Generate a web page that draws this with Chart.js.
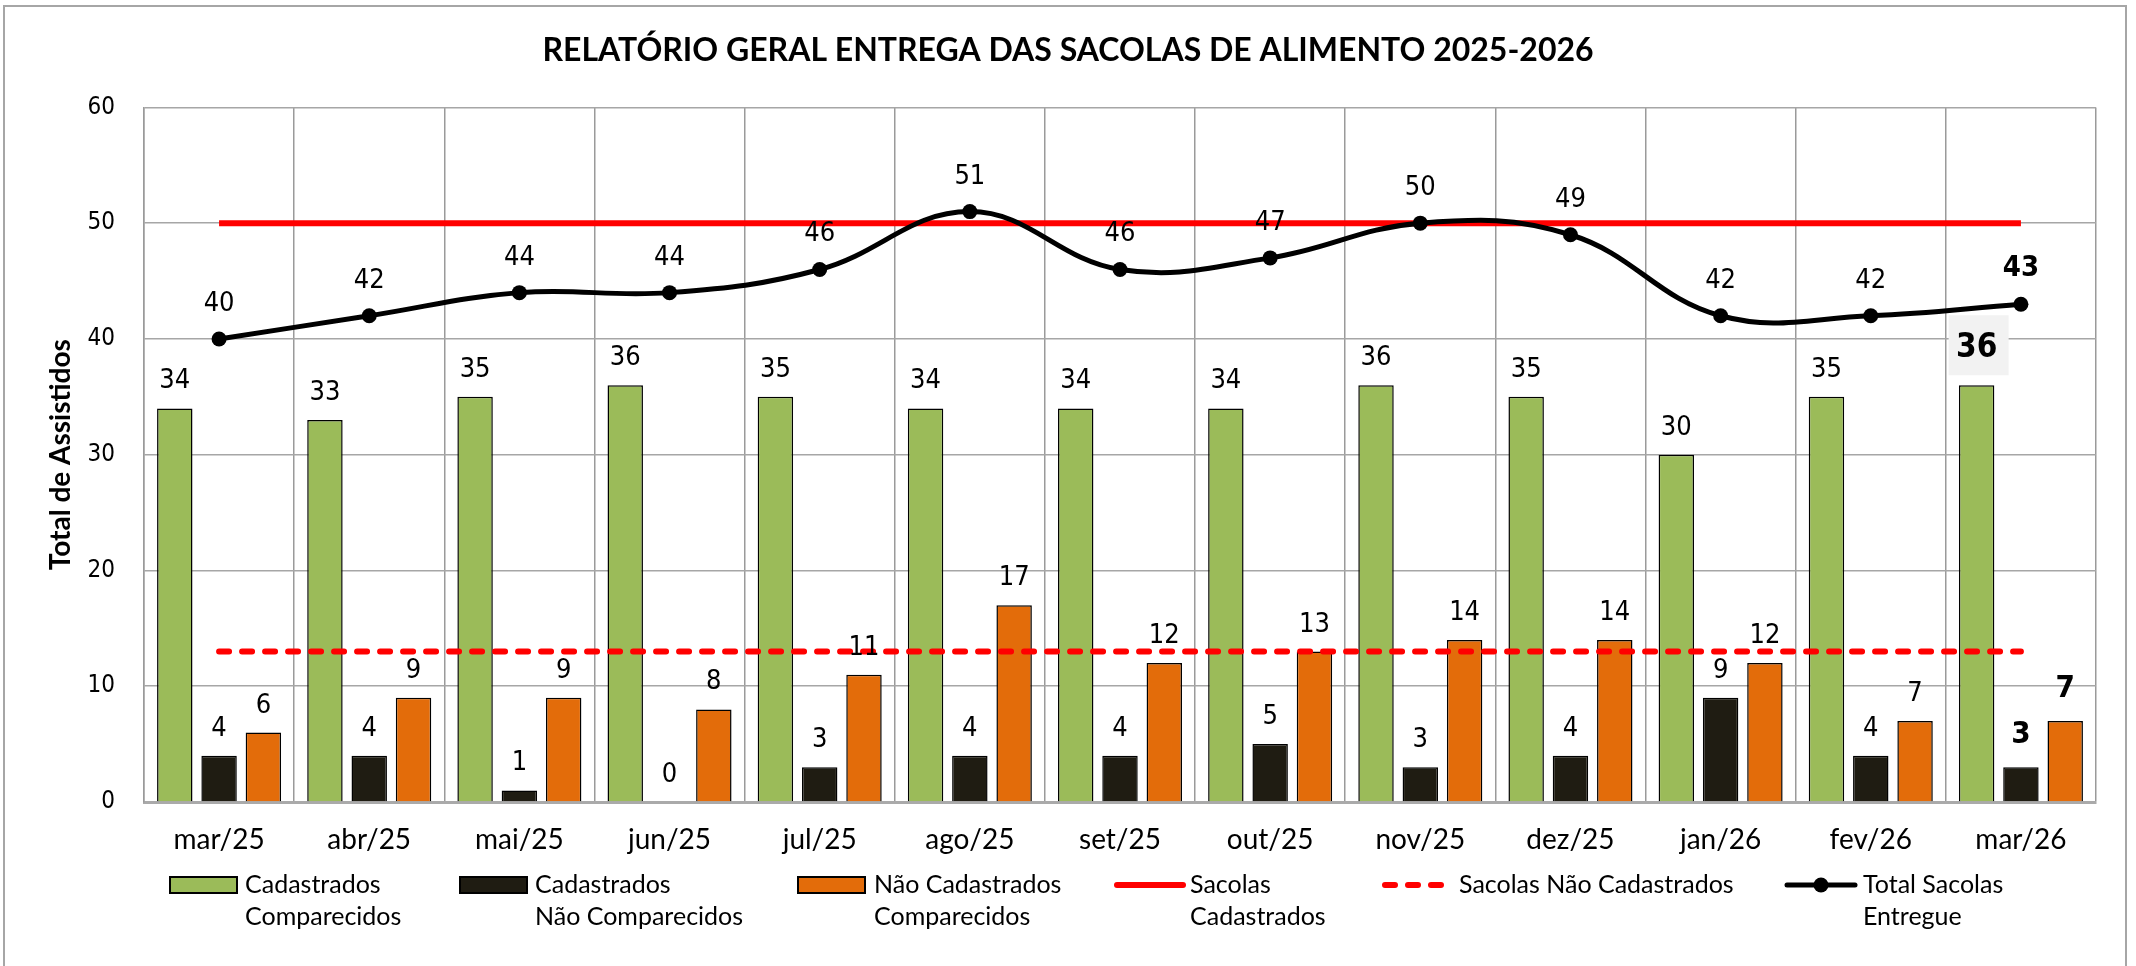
<!DOCTYPE html>
<html lang="pt-BR">
<head>
<meta charset="utf-8">
<title>Relatório Geral Entrega das Sacolas</title>
<script src="https://cdn.jsdelivr.net/npm/chart.js@4.4.1/dist/chart.umd.min.js"></script>
<style>
  html, body { margin: 0; padding: 0; background: #fff; }
  #wrap { width: 2136px; height: 966px; }
</style>
</head>
<body>
<div id="wrap"><canvas id="grafico" width="2136" height="966"></canvas></div>
<script>
// dados
const meses = ['mar/25', 'abr/25', 'mai/25', 'jun/25', 'jul/25', 'ago/25', 'set/25', 'out/25', 'nov/25', 'dez/25', 'jan/26', 'fev/26', 'mar/26'];
const cadComparecidos = [34, 33, 35, 36, 35, 34, 34, 34, 36, 35, 30, 35, 36];
const cadNaoComparecidos = [4, 4, 1, 0, 3, 4, 4, 5, 3, 4, 9, 4, 3];
const naoCadComparecidos = [6, 9, 9, 8, 11, 17, 12, 13, 14, 14, 12, 7, 7];
const sacolasCadastrados = [50, 50, 50, 50, 50, 50, 50, 50, 50, 50, 50, 50, 50];
const sacolasNaoCadastrados = [13, 13, 13, 13, 13, 13, 13, 13, 13, 13, 13, 13, 13];
const totalEntregue = [40, 42, 44, 44, 46, 51, 46, 47, 50, 49, 42, 42, 43];

const VERDE = '#9BBB59';
const ESCURO = '#1F1C12';
const LARANJA = '#E36C0A';
const VERMELHO = '#FF0000';

const fonteTexto = "Lato, 'Open Sans', sans-serif";
const fonteNum = "'DejaVu Sans Condensed', 'DejaVu Sans', sans-serif";

// rótulos de valor (não tem o plugin datalabels aqui, então faço na mão)
const rotulosPlugin = {
  id: 'rotulos',
  afterDatasetsDraw(chart) {
    const ctx = chart.ctx;
    const ultimo = meses.length - 1;
    chart.data.datasets.forEach((ds, i) => {
      if (!ds.rotulo) return;
      const meta = chart.getDatasetMeta(i);
      meta.data.forEach((el, j) => {
        const v = ds.data[j];
        const destaque = j === ultimo;
        let tam = 27, gap = ds.type === 'line' ? 28 : 20;
        if (destaque) {
          tam = ds.type === 'line' ? 29 : (ds.rotulo === 'caixa' ? 33 : 31);
          gap = ds.type === 'line' ? 28 : (ds.rotulo === 'caixa' ? 28 : 24);
        }
        ctx.save();
        ctx.font = (destaque ? 'bold ' : '') + tam + 'px ' + fonteNum;
        ctx.textAlign = 'center';
        ctx.textBaseline = 'alphabetic';
        const y = el.y - gap;
        if (destaque && ds.rotulo === 'caixa') {
          ctx.fillStyle = '#F2F2F2';
          ctx.fillRect(el.x - 28, y - 42, 60, 60);
        }
        ctx.fillStyle = '#000';
        ctx.fillText(String(v), el.x, y);
        ctx.restore();
      });
    });
  }
};

// moldura externa + legenda em duas linhas igual ao excel
const molduraLegendaPlugin = {
  id: 'molduraLegenda',
  beforeDraw(chart) {
    const ctx = chart.ctx;
    ctx.save();
    ctx.fillStyle = '#fff';
    ctx.fillRect(0, 0, chart.width, chart.height);
    ctx.strokeStyle = '#A6A6A6';
    ctx.lineWidth = 2;
    ctx.strokeRect(4, 6, 2122, 966);
    ctx.restore();
  },
  afterDraw(chart) {
    const ctx = chart.ctx;
    const l1 = 885, l2 = 917;
    ctx.save();
    ctx.font = '25px ' + fonteTexto;
    ctx.textBaseline = 'middle';
    ctx.textAlign = 'left';

    const caixa = (x, cor) => {
      ctx.fillStyle = cor;
      ctx.fillRect(x, l1 - 8, 67, 16);
      ctx.strokeStyle = '#000';
      ctx.lineWidth = 2;
      ctx.strokeRect(x, l1 - 8, 67, 16);
    };
    const texto = (x, a, b) => {
      ctx.fillStyle = '#000';
      ctx.fillText(a, x, l1);
      if (b) ctx.fillText(b, x, l2);
    };

    caixa(170, VERDE);
    texto(245, 'Cadastrados', 'Comparecidos');
    caixa(460, ESCURO);
    texto(535, 'Cadastrados', 'Não Comparecidos');
    caixa(798, LARANJA);
    texto(874, 'Não Cadastrados', 'Comparecidos');

    ctx.lineCap = 'round';
    ctx.strokeStyle = VERMELHO;
    ctx.lineWidth = 6;
    ctx.beginPath(); ctx.moveTo(1117, l1); ctx.lineTo(1183, l1); ctx.stroke();
    texto(1190, 'Sacolas', 'Cadastrados');

    ctx.setLineDash([10, 13]);
    ctx.beginPath(); ctx.moveTo(1385, l1); ctx.lineTo(1443, l1); ctx.stroke();
    ctx.setLineDash([]);
    texto(1459, 'Sacolas Não Cadastrados');

    ctx.strokeStyle = '#000';
    ctx.lineWidth = 5;
    ctx.beginPath(); ctx.moveTo(1787, l1); ctx.lineTo(1855, l1); ctx.stroke();
    ctx.fillStyle = '#000';
    ctx.beginPath(); ctx.arc(1821, l1, 7.5, 0, Math.PI * 2); ctx.fill();
    texto(1863, 'Total Sacolas', 'Entregue');
    ctx.restore();
  }
};

const ctx = document.getElementById('grafico').getContext('2d');
new Chart(ctx, {
  type: 'bar',
  data: {
    labels: meses,
    datasets: [
      {
        type: 'line', label: 'Total Sacolas Entregue', data: totalEntregue,
        borderColor: '#000', backgroundColor: '#000', borderWidth: 5,
        pointRadius: 7.5, pointHoverRadius: 7.5, pointBackgroundColor: '#000', pointBorderWidth: 0,
        tension: 0.4, order: 0, rotulo: true
      },
      {
        type: 'line', label: 'Sacolas Cadastrados', data: sacolasCadastrados,
        borderColor: VERMELHO, borderWidth: 6, pointRadius: 0, order: 1
      },
      {
        type: 'line', label: 'Sacolas Não Cadastrados', data: sacolasNaoCadastrados,
        borderColor: VERMELHO, borderWidth: 6, borderDash: [10, 13], borderCapStyle: 'round',
        pointRadius: 0, order: 1
      },
      {
        label: 'Cadastrados Comparecidos', data: cadComparecidos,
        backgroundColor: VERDE, borderColor: '#000', borderWidth: 1.5, order: 2, rotulo: 'caixa'
      },
      {
        label: 'Cadastrados Não Comparecidos', data: cadNaoComparecidos,
        backgroundColor: ESCURO, borderColor: '#000', borderWidth: 1.5, order: 2, rotulo: true
      },
      {
        label: 'Não Cadastrados Comparecidos', data: naoCadComparecidos,
        backgroundColor: LARANJA, borderColor: '#000', borderWidth: 1.5, order: 2, rotulo: true
      }
    ]
  },
  options: {
    responsive: false,
    animation: false,
    datasets: {
      bar: { categoryPercentage: 0.885, barPercentage: 0.8 }
    },
    layout: { padding: { left: 40, right: 40, top: 0, bottom: 84 } },
    plugins: {
      legend: { display: false },
      tooltip: { enabled: false },
      title: {
        display: true,
        text: 'RELATÓRIO GERAL ENTREGA DAS SACOLAS DE ALIMENTO 2025-2026',
        color: '#000',
        font: { family: fonteTexto, size: 32, weight: 'bold', lineHeight: 1.2 },
        padding: { top: 31, bottom: 38 }
      }
    },
    scales: {
      x: {
        grid: { color: '#9A9A9A', lineWidth: 1.5, drawTicks: false, offset: true },
        border: { color: '#AAAAAA', width: 3 },
        ticks: { color: '#000', padding: 21, font: { family: fonteTexto, size: 28 }, maxRotation: 0 },
        afterFit(scale) { scale.height = 80; }
      },
      y: {
        min: 0, max: 60,
        grid: { color: '#A6A6A6', lineWidth: 1.5, drawTicks: false },
        border: { color: '#9A9A9A', width: 1.5 },
        ticks: { stepSize: 10, color: '#000', padding: 29, font: { family: fonteNum, size: 24 } },
        title: {
          display: true, text: 'Total de Assistidos', color: '#000',
          font: { family: fonteTexto, size: 28, weight: 'bold', lineHeight: 1.2 },
          padding: { top: 4, bottom: 0 }
        },
        afterFit(scale) { scale.width = 104; }
      }
    }
  },
  plugins: [rotulosPlugin, molduraLegendaPlugin]
});
</script>
</body>
</html>
